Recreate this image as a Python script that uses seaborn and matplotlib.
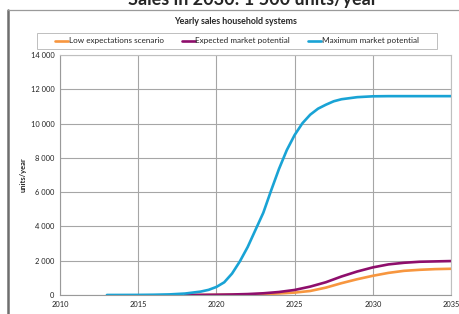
import numpy as np
import pandas as pd
import seaborn as sns
import matplotlib.pyplot as plt
from matplotlib.lines import Line2D
from matplotlib.patches import Rectangle
from matplotlib.ticker import FuncFormatter

# values (units/year)
years_max = [2013, 2014, 2015, 2016, 2017, 2018, 2019, 2019.5, 2020, 2020.5, 2021, 2021.5,
             2022, 2022.5, 2023, 2023.5, 2024, 2024.5, 2025, 2025.5, 2026, 2026.5, 2027,
             2027.5, 2028, 2029, 2030, 2031, 2032, 2033, 2034, 2035]
max_potential = [1, 3, 6, 15, 35, 85, 200, 300, 470, 740, 1250, 1960,
                 2800, 3800, 4800, 6100, 7350, 8450, 9330, 10020, 10520, 10870, 11100,
                 11300, 11420, 11540, 11590, 11600, 11600, 11600, 11600, 11600]

years_low = list(range(2018, 2036))
expected = [0, 5, 15, 30, 55, 100, 175, 294, 490, 745, 1080, 1370, 1610,
            1785, 1880, 1940, 1960, 1980]
low_expect = [0, 3, 8, 15, 30, 55, 90, 140, 235, 430, 690, 920, 1120,
              1290, 1410, 1470, 1510, 1530]

series_names = ["Low expectations scenario", "Expected market potential", "Maximum market potential"]
colors = ["#F7963F", "#8E0E6C", "#19A3D5"]

df = pd.concat([
    pd.DataFrame({"year": years_low, "units": low_expect, "series": series_names[0]}),
    pd.DataFrame({"year": years_low, "units": expected, "series": series_names[1]}),
    pd.DataFrame({"year": years_max, "units": max_potential, "series": series_names[2]}),
])

sns.set_theme(style="white")
plt.rcParams["font.family"] = ["Lato", "DejaVu Sans"]

fig = plt.figure(figsize=(4.6, 3.14), dpi=100)
ax = fig.add_axes([60 / 460, 19 / 314, 391 / 460, 240 / 314])

sns.lineplot(data=df, x="year", y="units", hue="series", hue_order=series_names,
             palette=colors, linewidth=1.9, ax=ax, legend=False)

ax.set_xlim(2010, 2035)
ax.set_ylim(0, 14000)
ax.set_xticks(range(2010, 2036, 5))
ax.set_yticks(range(0, 14001, 2000))
ax.yaxis.set_major_formatter(FuncFormatter(lambda v, p: f"{int(v):,}".replace(",", " ")))
ax.grid(True, color="#A6A6A6", linewidth=0.8)
ax.set_axisbelow(True)
for s in ax.spines.values():
    s.set_color("#BFBFBF")
    s.set_linewidth(0.8)
ax.spines["left"].set_color("#9A9A9A")
ax.spines["bottom"].set_color("#9A9A9A")
ax.tick_params(axis="both", labelsize=5.4, length=0, pad=4, colors="#222222")
ax.set_xlabel("")
ax.set_ylabel("units/year", fontsize=5.4, fontweight="bold", labelpad=3)

# legend across the top, in its own frame
handles = [Line2D([0], [0], color=c, linewidth=1.9) for c in colors]
leg = fig.legend(handles, series_names, loc="center", bbox_to_anchor=(237 / 460, 1 - 41 / 314),
                 ncol=3, fontsize=5.9, frameon=False, handlelength=1.6,
                 handletextpad=0.05, columnspacing=2.2, borderpad=0, borderaxespad=0)
fig.add_artist(Rectangle((37 / 460, 1 - 49 / 314), 400 / 460, 16 / 314, transform=fig.transFigure,
                         facecolor="none", edgecolor="#BFBFBF", linewidth=0.7))

fig.text(236 / 460, 1 - 21 / 314, "Yearly sales household systems", ha="center", va="center",
         fontsize=6.4, fontweight="bold")

# slide heading, cut off at the top
fig.text(253 / 460, 1 - 5 / 314, "Sales in 2030: 1 500 units/year", ha="center", va="baseline",
         fontsize=13, fontweight="bold")

# chart frame
fig.add_artist(Line2D([8 / 460, 8 / 460], [0, 1 - 10 / 314], color="#6E6E6E", linewidth=1.8,
                      transform=fig.transFigure))
fig.add_artist(Line2D([8 / 460, 1], [1 - 10 / 314, 1 - 10 / 314], color="#9A9A9A", linewidth=0.9,
                      transform=fig.transFigure))

fig.savefig("out.png", dpi=100)
